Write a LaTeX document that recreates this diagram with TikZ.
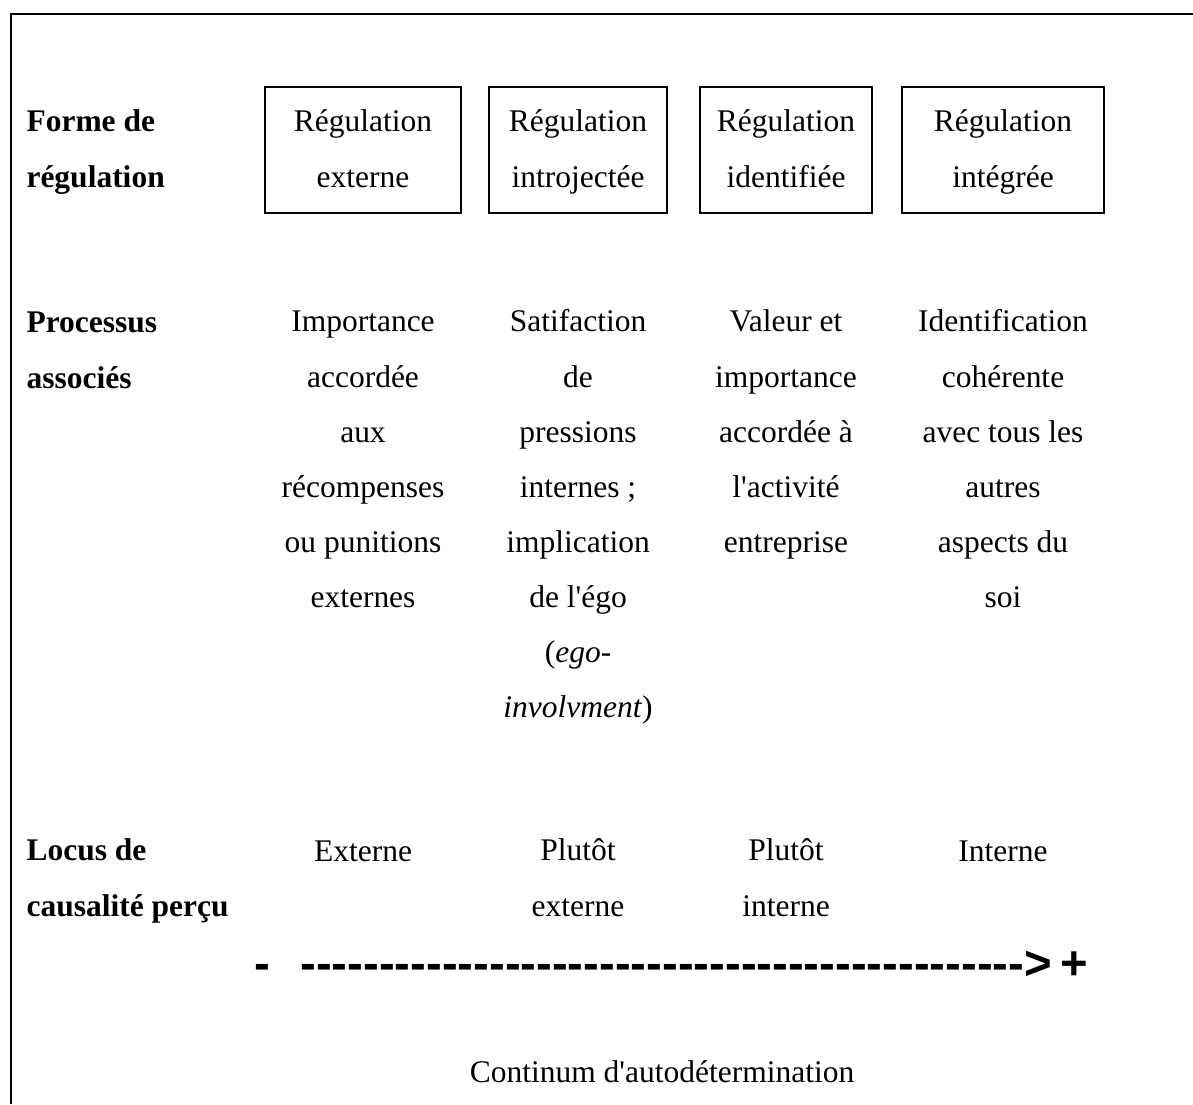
\documentclass[tikz,border=0pt]{standalone}
\usepackage{fontspec}
\setmainfont{Liberation Serif}
\newfontfamily\arrowfont{Liberation Sans}
\usetikzlibrary{positioning}

\newcommand{\apos}{\textquotesingle}

\tikzset{
    rowlabel/.style={font=\bfseries\fontsize{12}{21}\selectfont, align=left, anchor=base west, inner sep=0pt},
    regbox/.style={draw, line width=0.8pt, minimum height=48pt, inner sep=0pt},
    coltext/.style={font=\fontsize{12}{21}\selectfont, align=center, anchor=base, inner sep=0pt},
    arrowtext/.style={font=\arrowfont\bfseries\fontsize{18}{20}\selectfont, anchor=base west, inner sep=0pt},
}

\begin{document}
\begin{tikzpicture}[x=0.381pt, y=-0.381pt]
    \useasboundingbox (0,0) rectangle (1193,1104);
    \draw[line width=1.1pt] (11,1104) -- (11,14) -- (1193,14);

    % forme de regulation (base = last line)
    \node[rowlabel] (forme) at (26,187) {Forme de\\r\'egulation};
    \node[regbox, minimum width=74.7pt] (ext) at (363,150) {};
    \node[regbox, minimum width=67.8pt] (intro) at (578,150) {};
    \node[regbox, minimum width=65.5pt] (ident) at (786,150) {};
    \node[regbox, minimum width=77pt] (integ) at (1003,150) {};
    \node[coltext] (text ext) at (363,187) {R\'egulation\\externe};
    \node[coltext] (text intro) at (578,187) {R\'egulation\\introject\'ee};
    \node[coltext] (text ident) at (786,187) {R\'egulation\\identifi\'ee};
    \node[coltext] (text integ) at (1003,187) {R\'egulation\\int\'egr\'ee};

    % processus associes
    \node[rowlabel] (processus) at (26,388) {Processus\\associ\'es};
    \node[coltext] (pext) at (363,607.5) {Importance\\accord\'ee\\aux\\r\'ecompenses\\ou punitions\\externes};
    \node[coltext] (pintro) at (578,717.7) {Satifaction\\de\\pressions\\internes ;\\implication\\de l\apos\'ego\\(\textit{ego-}\\\textit{involvment})};
    \node[coltext] (pident) at (786,552.4) {Valeur et\\importance\\accord\'ee \`a\\l\apos activit\'e\\entreprise};
    \node[coltext] (pinteg) at (1003,607.5) {Identification\\coh\'erente\\avec tous les\\autres\\aspects du\\soi};

    % locus de causalite
    \node[rowlabel] (locus) at (26,916) {Locus de\\causalit\'e per\c{c}u};
    \node[coltext] (lext) at (363,861) {Externe};
    \node[coltext] (lintro) at (578,916) {Plut\^ot\\externe};
    \node[coltext] (lident) at (786,916) {Plut\^ot\\interne};
    \node[coltext] (linteg) at (1003,861) {Interne};

    % continuum
    \node[arrowtext] (minus) at (254,979) {-};
    \node[arrowtext] (dashes) at (300,979) {\foreach \i in {1,...,46}{-}>};
    \node[arrowtext] (plus) at (1060,979) {+};
    \node[coltext] (continuum) at (662,1082) {Continum d\apos autod\'etermination};
\end{tikzpicture}
\end{document}
